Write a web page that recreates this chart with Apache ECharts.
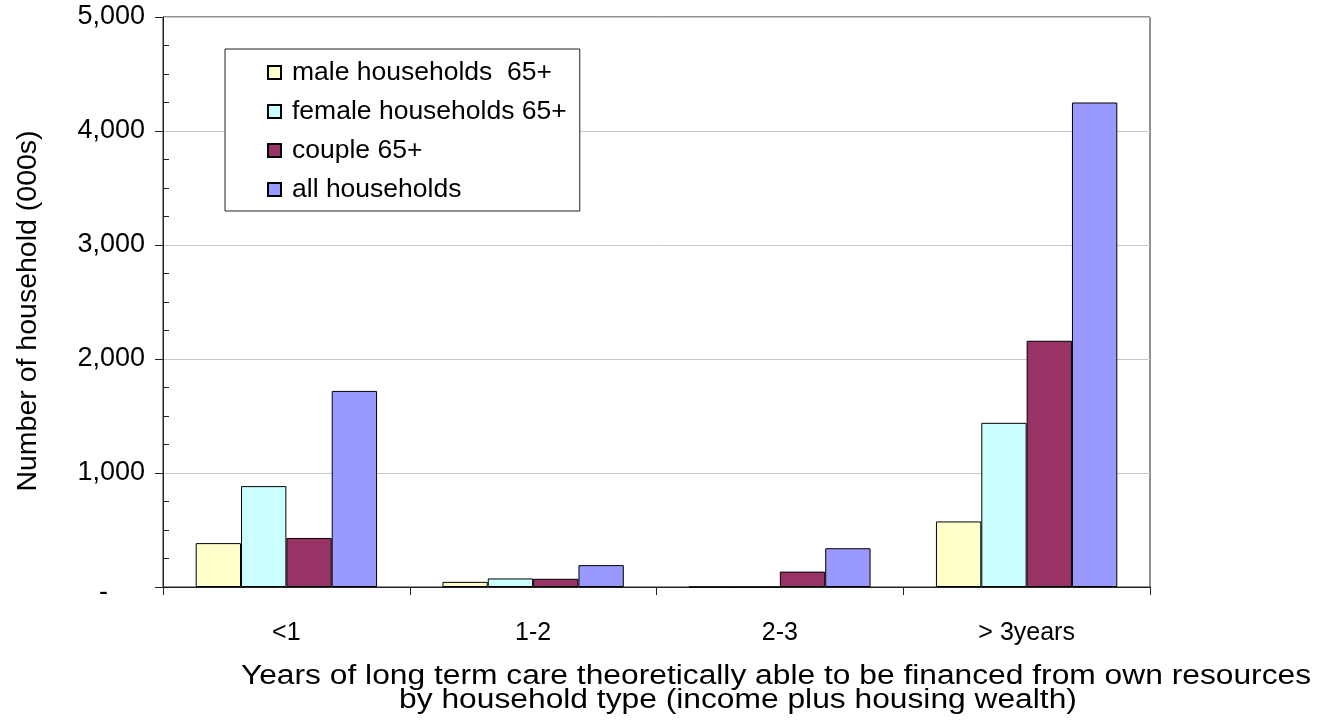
<!DOCTYPE html>
<html>
<head>
<meta charset="utf-8">
<title>Years of long term care financed from own resources</title>
<script src="https://cdn.jsdelivr.net/npm/echarts@6/dist/echarts.min.js"></script>
<style>
  html, body { margin: 0; padding: 0; background: #fff; }
  #chart { width: 1329px; height: 722px; }
</style>
</head>
<body>
<div id="chart"></div>
<script>
// Categories: years of care that could be paid for
const categories = ['<1', '1-2', '2-3', '> 3years'];

// Number of households (000s) per household type
const maleHouseholds   = [385, 45, 0, 575];
const femaleHouseholds = [885, 75, 0, 1440];
const coupleHouseholds = [430, 72, 135, 2160];
const allHouseholds    = [1720, 192, 340, 4250];

const seriesNames = ['male households  65+', 'female households 65+', 'couple 65+', 'all households'];
const seriesColors = ['#FFFFCC', '#CCFFFF', '#993366', '#9999FF'];
const seriesValues = [maleHouseholds, femaleHouseholds, coupleHouseholds, allHouseholds];

const xTitleLine1 = 'Years of long term care theoretically able to be financed from own resources';
const xTitleLine2 = 'by household type (income plus housing wealth)';
const yTitle = 'Number of household (000s)';

const FONT = '"Liberation Sans", Arial, sans-serif';

const chart = echarts.init(document.getElementById('chart'), null, { renderer: 'canvas' });

const series = seriesValues.map((vals, i) => ({
  name: seriesNames[i],
  type: 'bar',
  data: vals,
  barGap: '0%',
  barCategoryGap: '26.5%',
  itemStyle: { color: seriesColors[i], borderColor: '#000', borderWidth: 1 },
  emphasis: { disabled: true }
}));

chart.setOption({
  animation: false,
  backgroundColor: '#fff',
  textStyle: { fontFamily: FONT, color: '#000' },
  grid: {
    left: 163, right: 179, top: 17, bottom: 135,
    show: true, borderColor: '#222', borderWidth: 1, backgroundColor: 'transparent'
  },
  legend: {
    orient: 'vertical',
    left: 225, top: 49,
    padding: [10, 13, 8, 42],
    borderColor: '#222', borderWidth: 1, backgroundColor: '#fff',
    icon: 'rect',
    itemWidth: 13, itemHeight: 13, itemGap: 12,
    selectedMode: false,
    textStyle: { fontFamily: FONT, fontSize: 26.5, lineHeight: 27, color: '#000', padding: [0, 0, 0, 6] },
    data: seriesNames
  },
  xAxis: {
    type: 'category',
    data: categories,
    axisLine: { lineStyle: { color: '#222', width: 1 } },
    axisTick: { show: true, length: 8, lineStyle: { color: '#222' } },
    axisLabel: { fontFamily: FONT, fontSize: 25, color: '#000', margin: 34 },
    splitLine: { show: false }
  },
  yAxis: [
    {
      type: 'value',
      min: 0, max: 5000, interval: 1000,
      name: yTitle,
      nameLocation: 'middle',
      nameGap: 120,
      nameTextStyle: { fontFamily: FONT, fontSize: 28.5, color: '#000', padding: [0, 18, 0, 0] },
      axisLine: { show: true, lineStyle: { color: '#222', width: 1 } },
      axisTick: { show: true, length: 8, lineStyle: { color: '#222' } },
      axisLabel: {
        fontFamily: FONT, fontSize: 27, color: '#000', margin: 18,
        formatter: v => v === 0 ? '{z|-}' : v.toLocaleString('en-US'),
        rich: { z: { fontFamily: FONT, fontSize: 27, color: '#000', padding: [12, 37, 0, 0] } }
      },
      splitLine: { show: true, lineStyle: { color: '#c8c8c8', width: 1 } }
    },
    {
      // overlay axis carrying the inner minor ticks
      type: 'value',
      position: 'left',
      min: 0, max: 5000, interval: 1000,
      axisLine: { show: false },
      axisTick: { show: false, inside: true },
      minorTick: { show: true, splitNumber: 4, length: 6, lineStyle: { color: '#222' } },
      axisLabel: { show: false },
      splitLine: { show: false }
    }
  ],
  graphic: [
    {
      type: 'text', x: 776, y: 663, scaleX: 1.176,
      style: { text: xTitleLine1, font: '27px ' + FONT, fill: '#000', textAlign: 'center', textVerticalAlign: 'top' }
    },
    {
      type: 'text', x: 738, y: 687, scaleX: 1.176,
      style: { text: xTitleLine2, font: '27px ' + FONT, fill: '#000', textAlign: 'center', textVerticalAlign: 'top' }
    }
  ],
  series: series
});
</script>
</body>
</html>
